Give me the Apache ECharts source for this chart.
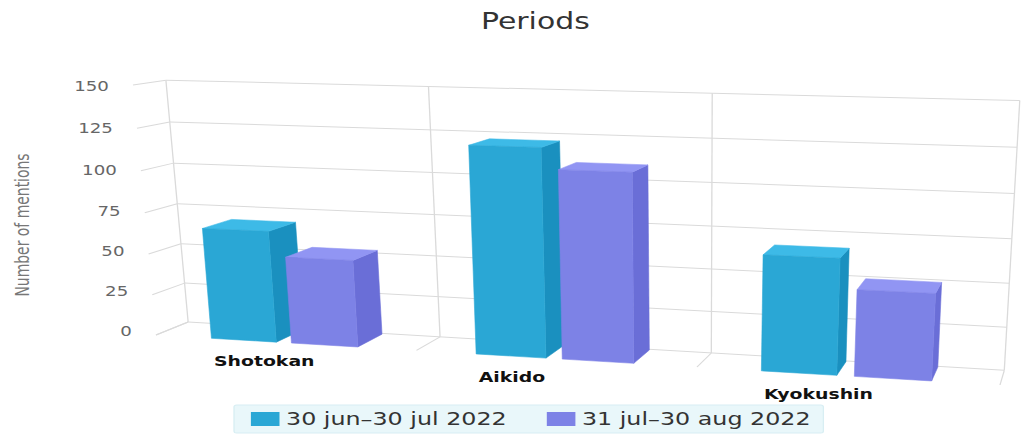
<!DOCTYPE html>
<html>
<head>
<meta charset="utf-8">
<script src="https://cdn.jsdelivr.net/npm/echarts@6/dist/echarts.min.js"></script>
<style>
  html, body { margin: 0; padding: 0; background: #fff; overflow: hidden; }
  /* the reference picture is stretched sideways, so the whole chart is too */
  #chart { width: 787px; height: 434px; transform: scaleX(1.3); transform-origin: 0 0; }
</style>
</head>
<body>
<div id="chart"></div>
<script>
  const categories = ['Shotokan', 'Aikido', 'Kyokushin']
  const periodNames = ['30 jun–30 jul 2022', '31 jul–30 aug 2022']
  const period1 = [67, 121, 66]
  const period2 = [52, 109, 49]
  const yTicks = [0, 25, 50, 75, 100, 125, 150]

  const colorList = ['#2aa7d5', '#7d82e6']
  const sideColors = ['#1a90bf', '#6a6ed7']
  const topColors = ['#3dbae7', '#9195f3']
  const gridColor = '#dadada'

  const S = 1.3
  // front face of the 3d box on screen (reference pixels): BL, BR, TR, TL
  const frontQuad = [[156, 335], [1000, 385], [1016, 106], [133, 85]]
  // depth lines run towards this point
  const vanish = [1130, -60]
  const depthK = 0.033

  // unit square -> quad, perspective
  function squareToQuad(q) {
    const [x0, y0] = q[0], [x1, y1] = q[1], [x2, y2] = q[2], [x3, y3] = q[3]
    const dx1 = x1 - x2, dx2 = x3 - x2, dy1 = y1 - y2, dy2 = y3 - y2
    const sx = x0 - x1 + x2 - x3, sy = y0 - y1 + y2 - y3
    const det = dx1 * dy2 - dx2 * dy1
    const g = (sx * dy2 - dx2 * sy) / det
    const h = (dx1 * sy - sx * dy1) / det
    const a = x1 - x0 + g * x1, b = x3 - x0 + h * x3, c = x0
    const d = y1 - y0 + g * y1, e = y3 - y0 + h * y3, f = y0
    return (u, v) => {
      const w = g * u + h * v + 1
      return [(a * u + b * v + c) / w, (d * u + e * v + f) / w]
    }
  }
  const frontMap = squareToQuad(frontQuad)

  // u: along categories, v: along values, w: depth (0 front, 1 back wall)
  function project(u, v, w) {
    const f = frontMap(u, v)
    const t = depthK * w
    return [(f[0] + (vanish[0] - f[0]) * t) / S, f[1] + (vanish[1] - f[1]) * t]
  }
  const toU = (cs, x) => (x - cs.x) / cs.width
  const toV = (cs, y) => (cs.y + cs.height - y) / cs.height

  function line(p, q) {
    return {
      type: 'line',
      shape: { x1: p[0], y1: p[1], x2: q[0], y2: q[1] },
      style: { stroke: gridColor, lineWidth: 1 },
    }
  }

  function renderWall(params, api) {
    const t = api.value(1)
    const v = toV(params.coordSys, api.coord([0, t])[1])
    const back0 = project(0, v, 1)
    const back1 = project(1, v, 1)
    const front0 = project(0, v, 0)
    return {
      type: 'group',
      children: [
        line(back0, back1),
        line(front0, back0),
        {
          type: 'text',
          style: {
            text: String(t),
            x: front0[0] - 18.5,
            y: front0[1] - 4 + 5 * v,
            align: 'right',
            verticalAlign: 'middle',
            fill: '#666',
            fontSize: 14,
            fontFamily: 'DejaVu Sans',
          },
        },
      ],
    }
  }

  const barWidthRatio = 0.252
  const barGapRatio = 0.058
  const barDepth = 0.95

  function renderFloor(params, api) {
    const cs = params.coordSys
    const i = api.value(0)
    const c = api.coord([i, 0])
    const band = api.size([1, 0])[0]
    const edges = [toU(cs, c[0] - band / 2)]
    if (i === categories.length - 1) edges.push(toU(cs, c[0] + band / 2))
    const children = []
    edges.forEach((u) => {
      children.push(line(project(u, 0, 1), project(u, 1, 1)))
      children.push(line(project(u, 0, 0), project(u, 0, 1)))
    })
    const uLabel = toU(cs, c[0] - band * (barGapRatio / 2 + barWidthRatio))
    const p = project(uLabel, 0, 0)
    children.push({
      type: 'text',
      style: {
        text: categories[i],
        x: p[0] + 2,
        y: p[1] + 23,
        align: 'left',
        verticalAlign: 'middle',
        fill: '#111',
        fontSize: 14.5,
        fontWeight: 'bold',
        fontFamily: 'DejaVu Sans',
      },
    })
    return { type: 'group', children }
  }

  function barRenderer(k) {
    return function (params, api) {
      const cs = params.coordSys
      const i = api.value(0)
      const base = api.coord([i, 0])
      const top = api.coord([i, api.value(1)])
      const band = api.size([1, 0])[0]
      const x0 = base[0] + band * (k === 0 ? -(barGapRatio / 2 + barWidthRatio) : barGapRatio / 2)
      const x1 = x0 + band * barWidthRatio
      const uL = toU(cs, x0), uR = toU(cs, x1)
      const vB = toV(cs, base[1]), vT = toV(cs, top[1])
      const face = (pts, fill) => ({ type: 'polygon', shape: { points: pts }, style: { fill, stroke: fill, lineWidth: 0.5 } })
      return {
        type: 'group',
        children: [
          face([project(uR, vB, 0), project(uR, vB, barDepth), project(uR, vT, barDepth), project(uR, vT, 0)], sideColors[k]),
          face([project(uL, vT, 0), project(uR, vT, 0), project(uR, vT, barDepth), project(uL, vT, barDepth)], topColors[k]),
          face([project(uL, vB, 0), project(uR, vB, 0), project(uR, vT, 0), project(uL, vT, 0)], colorList[k]),
        ],
      }
    }
  }

  const options = {
    animation: false,
    title: {
      text: 'Periods',
      left: 365,
      top: 4,
      textStyle: { fontSize: 23, fontWeight: 'normal', color: '#333', fontFamily: 'DejaVu Sans' },
    },
    legend: {
      data: periodNames,
      left: 180,
      top: 405,
      icon: 'rect',
      itemWidth: 22,
      itemHeight: 14,
      itemGap: 31,
      padding: [5, 10, 5, 13],
      backgroundColor: '#e9f7fa',
      borderColor: '#d8eef3',
      borderWidth: 1,
      borderRadius: 2,
      textStyle: { fontSize: 18.3, color: '#333', fontFamily: 'DejaVu Sans' },
    },
    grid: { left: 80, top: 100, width: 620, height: 250 },
    xAxis: { type: 'category', data: categories, show: false },
    yAxis: {
      type: 'value',
      min: 0,
      max: 150,
      interval: 25,
      name: 'Number of mentions',
      nameLocation: 'middle',
      nameGap: 55,
      nameTextStyle: { fontSize: 15.5, color: '#777', fontFamily: '"DejaVu Sans Condensed", sans-serif' },
      axisLine: { show: false },
      axisTick: { show: false },
      axisLabel: { show: false },
      splitLine: { show: false },
    },
    series: [
      {
        name: 'walls',
        type: 'custom',
        silent: true,
        renderItem: renderWall,
        data: yTicks.map((t) => [0, t]),
      },
      {
        name: 'floor',
        type: 'custom',
        silent: true,
        renderItem: renderFloor,
        data: categories.map((c, i) => [i, 0]),
      },
      {
        name: periodNames[0],
        type: 'custom',
        renderItem: barRenderer(0),
        itemStyle: { color: colorList[0] },
        data: period1.map((v, i) => [i, v]),
      },
      {
        name: periodNames[1],
        type: 'custom',
        renderItem: barRenderer(1),
        itemStyle: { color: colorList[1] },
        data: period2.map((v, i) => [i, v]),
      },
    ],
  }

  const chart = echarts.init(document.getElementById('chart'), null, { renderer: 'svg' })
  chart.setOption(options)
</script>
</body>
</html>
